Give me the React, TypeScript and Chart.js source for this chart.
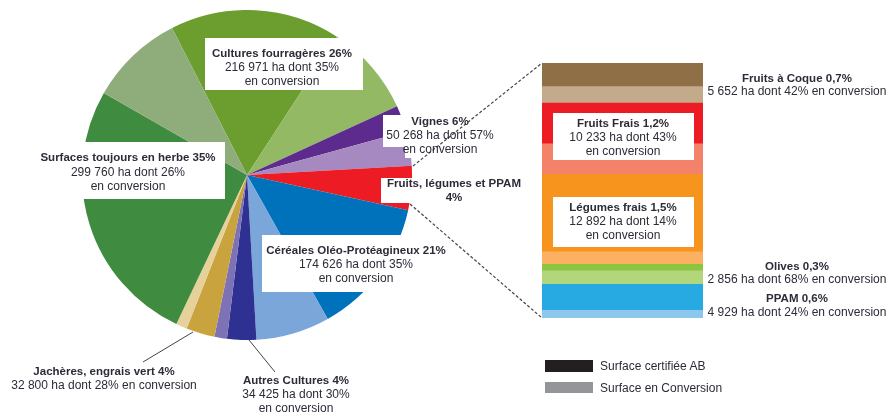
import React, { useEffect, useRef } from "react";
import { Chart, registerables } from "chart.js";

Chart.register(...registerables);

// ---- Main pie data (clockwise from the top) ----
const categories = [
  "Cultures fourragères",
  "Vignes",
  "Fruits, légumes et PPAM",
  "Céréales Oléo-Protéagineux",
  "Autres Cultures",
  "Jachères, engrais vert",
  "Surfaces toujours en herbe",
];
const areasHa = [216971, 50268, 36562, 174626, 34425, 32800, 299760];
const conversionPct = [35, 57, 0, 35, 30, 28, 26];
const certColors = ["#6b9e2e", "#5d2a8e", "#ed1c24", "#0071bb", "#2e3192", "#c9a43e", "#3f8b3f"];
const convColors = ["#94b964", "#a689c1", "#ed1c24", "#7ba6da", "#7d72b6", "#e6d19a", "#8ead7b"];

// ---- Detail bar (Fruits, légumes et PPAM), top to bottom ----
const fruitCategories = ["Fruits à Coque", "Fruits Frais", "Légumes frais", "Olives", "PPAM"];
const fruitAreasHa = [5652, 10233, 12892, 2856, 4929];
const fruitConversionPct = [42, 43, 14, 68, 24];
const fruitCertColors = ["#8f6f45", "#ed1c24", "#f7941d", "#8cc63f", "#27a9e1"];
const fruitConvColors = ["#c3aa8b", "#f4826a", "#fbb062", "#b2d67c", "#8ec7ec"];

const TEXT = "#2d2b38";
const FONT = '"Liberation Sans", Arial, sans-serif';

type Line = { t: string; b?: boolean };
function Label({ cx, top, lines, lh = 14 }: { cx: number; top: number; lines: Line[]; lh?: number }) {
  return (
    <div
      style={{
        position: "absolute",
        left: cx - 150,
        width: 300,
        top,
        textAlign: "center",
        fontFamily: FONT,
        color: TEXT,
        lineHeight: lh + "px",
        whiteSpace: "nowrap",
      }}
    >
      {lines.map((l, i) => (
        <div key={i} style={{ fontWeight: l.b ? 700 : 400, fontSize: l.b ? 11.5 : 12 }}>
          {l.t}
        </div>
      ))}
    </div>
  );
}

function Box({ x, y, w, h }: { x: number; y: number; w: number; h: number }) {
  return <div style={{ position: "absolute", left: x, top: y, width: w, height: h, background: "#fff" }} />;
}

export default function App() {
  const pieRef = useRef<HTMLCanvasElement>(null);
  const barRef = useRef<HTMLCanvasElement>(null);

  useEffect(() => {
    const pieLabels: string[] = [];
    const pieData: number[] = [];
    const pieColors: string[] = [];
    categories.forEach((c, i) => {
      const conv = (areasHa[i] * conversionPct[i]) / 100;
      pieLabels.push(c + " (AB)");
      pieData.push(areasHa[i] - conv);
      pieColors.push(certColors[i]);
      if (conv > 0) {
        pieLabels.push(c + " (conversion)");
        pieData.push(conv);
        pieColors.push(convColors[i]);
      }
    });
    const pie = new Chart(pieRef.current!, {
      type: "pie",
      data: {
        labels: pieLabels,
        datasets: [{ data: pieData, backgroundColor: pieColors, borderWidth: 0 }],
      },
      options: {
        responsive: false,
        animation: false,
        rotation: -27,
        layout: { padding: 0 },
        plugins: { legend: { display: false }, tooltip: { enabled: false } },
      },
    });

    const datasets: any[] = [];
    fruitCategories.forEach((c, i) => {
      const conv = (fruitAreasHa[i] * fruitConversionPct[i]) / 100;
      datasets.push({
        label: c + " (AB)",
        data: [fruitAreasHa[i] - conv],
        backgroundColor: fruitCertColors[i],
        borderWidth: 0,
        barPercentage: 1,
        categoryPercentage: 1,
        stack: "s",
      });
      datasets.push({
        label: c + " (conversion)",
        data: [conv],
        backgroundColor: fruitConvColors[i],
        borderWidth: 0,
        barPercentage: 1,
        categoryPercentage: 1,
        stack: "s",
      });
    });
    const total = fruitAreasHa.reduce((a, b) => a + b, 0);
    const bar = new Chart(barRef.current!, {
      type: "bar",
      data: { labels: ["Fruits, légumes et PPAM"], datasets },
      options: {
        responsive: false,
        animation: false,
        layout: { padding: 0 },
        scales: {
          x: { display: false, stacked: true },
          y: { display: false, stacked: true, reverse: true, min: 0, max: total },
        },
        plugins: { legend: { display: false }, tooltip: { enabled: false } },
      },
    });
    return () => {
      pie.destroy();
      bar.destroy();
    };
  }, []);

  return (
    <div style={{ position: "absolute", left: 0, top: 0, width: 892, height: 416, background: "#fff", overflow: "hidden" }}>
      <canvas ref={pieRef} width={330} height={330} style={{ position: "absolute", left: 82, top: 10 }} />
      <canvas ref={barRef} width={161} height={255} style={{ position: "absolute", left: 542, top: 63 }} />

      {/* white label boxes */}
      <Box x={205} y={38} w={158} h={52} />
      <Box x={33} y={142} w={192} h={57} />
      <Box x={383} y={115} w={95} h={32} />
      <Box x={405} y={147} w={73} h={11} />
      <Box x={381} y={178} w={100} h={25} />
      <Box x={262} y={235} w={190} h={57} />
      <Box x={553} y={113} w={141} h={47} />
      <Box x={553} y={197} w={141} h={50} />

      <svg width={892} height={416} style={{ position: "absolute", left: 0, top: 0 }}>
        <line x1={413} y1={166} x2={542} y2={63} stroke="#444" strokeWidth={1.2} strokeDasharray="3 2" />
        <line x1={410} y1={204} x2={542} y2={318} stroke="#444" strokeWidth={1.2} strokeDasharray="3 2" />
        <line x1={193} y1={332} x2={143} y2={362} stroke="#444" strokeWidth={1} />
        <line x1={249} y1={340} x2={275} y2={372} stroke="#444" strokeWidth={1} />
      </svg>

      <Label cx={282} top={46} lines={[{ t: "Cultures fourragères 26%", b: true }, { t: "216 971 ha dont 35%" }, { t: "en conversion" }]} />
      <Label cx={128} top={150} lh={14.5} lines={[{ t: "Surfaces toujours en herbe 35%", b: true }, { t: "299 760 ha dont 26%" }, { t: "en conversion" }]} />
      <Label cx={440} top={114} lines={[{ t: "Vignes 6%", b: true }, { t: "50 268 ha dont 57%" }, { t: "en conversion" }]} />
      <Label cx={454} top={177} lh={13.5} lines={[{ t: "Fruits, légumes et PPAM", b: true }, { t: "4%", b: true }]} />
      <Label cx={356} top={243} lines={[{ t: "Céréales Oléo-Protéagineux 21%", b: true }, { t: "174 626 ha dont 35%" }, { t: "en conversion" }]} />
      <Label cx={104} top={364} lines={[{ t: "Jachères, engrais vert 4%", b: true }, { t: "32 800 ha dont 28% en conversion" }]} />
      <Label cx={296} top={373} lines={[{ t: "Autres Cultures 4%", b: true }, { t: "34 425 ha dont 30%" }, { t: "en conversion" }]} />

      <Label cx={797} top={72} lh={13} lines={[{ t: "Fruits à Coque 0,7%", b: true }, { t: "5 652 ha dont 42% en conversion" }]} />
      <Label cx={623} top={116} lines={[{ t: "Fruits Frais 1,2%", b: true }, { t: "10 233 ha dont 43%" }, { t: "en conversion" }]} />
      <Label cx={623} top={200} lines={[{ t: "Légumes frais 1,5%", b: true }, { t: "12 892 ha dont 14%" }, { t: "en conversion" }]} />
      <Label cx={797} top={260} lh={13} lines={[{ t: "Olives 0,3%", b: true }, { t: "2 856 ha dont 68% en conversion" }]} />
      <Label cx={797} top={291} lh={14} lines={[{ t: "PPAM 0,6%", b: true }, { t: "4 929 ha dont 24% en conversion" }]} />

      {/* legend */}
      <div style={{ position: "absolute", left: 545, top: 360, width: 48, height: 12, background: "#231f20" }} />
      <div style={{ position: "absolute", left: 545, top: 382, width: 48, height: 11, background: "#939598" }} />
      <div style={{ position: "absolute", left: 600, top: 359, fontFamily: FONT, fontSize: 12, color: TEXT, lineHeight: "14px", whiteSpace: "nowrap" }}>
        Surface certifiée AB
      </div>
      <div style={{ position: "absolute", left: 600, top: 381, fontFamily: FONT, fontSize: 12, color: TEXT, lineHeight: "14px", whiteSpace: "nowrap" }}>
        Surface en Conversion
      </div>
    </div>
  );
}
